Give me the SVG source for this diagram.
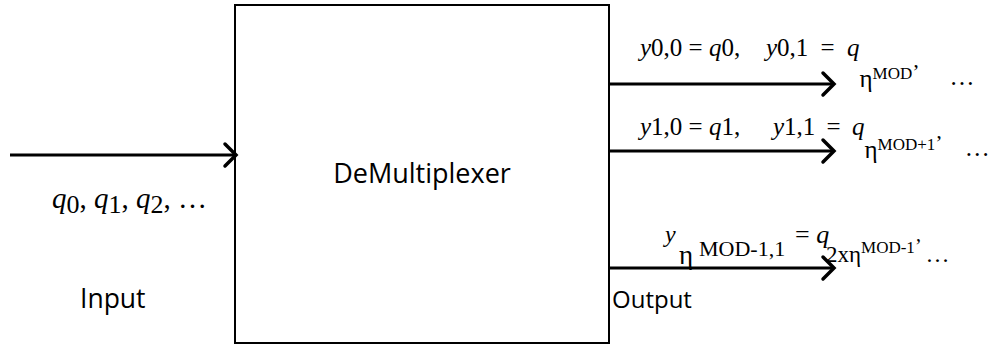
<svg xmlns="http://www.w3.org/2000/svg" width="992" height="345" viewBox="0 0 992 345">
<defs>
<marker id="chev" markerUnits="userSpaceOnUse" markerWidth="30" markerHeight="30" viewBox="-16 -15 20 30" refX="0" refY="0" orient="auto" overflow="visible">
<path d="M-11,-11 L0,0 L-11,11" fill="none" stroke="#000" stroke-width="3.5" stroke-linecap="round" stroke-linejoin="miter"/>
</marker>
</defs>
<style>
.box{fill:#fff;stroke:#000;stroke-width:2}
.sans{font-family:"Open Sans","Liberation Sans",sans-serif;fill:#000}
.m{font-family:"Liberation Serif","DejaVu Serif",serif;fill:#000}
.i{font-style:italic}
.conn{stroke:#000;stroke-width:3;fill:none;marker-end:url(#chev)}
</style>
<g id="demux">
<rect class="box" x="235" y="5" width="374" height="338"/>
<text class="sans" x="422" y="183" font-size="27" text-anchor="middle">DeMultiplexer</text>
</g>
<g id="connectors">
<line class="conn" x1="10" y1="155" x2="236" y2="155"/>
<line class="conn" x1="609" y1="84" x2="834" y2="84"/>
<line class="conn" x1="609" y1="151" x2="834" y2="151"/>
<line class="conn" x1="609" y1="268" x2="834" y2="268"/>
</g>
<g id="input-label">
<text class="m" x="52" y="208" font-size="29"><tspan class="i">q</tspan><tspan dy="5" font-size="26">0</tspan><tspan dy="-5">, </tspan><tspan class="i">q</tspan><tspan dy="5" font-size="26">1</tspan><tspan dy="-5">, </tspan><tspan class="i">q</tspan><tspan dy="5" font-size="26">2</tspan><tspan dy="-5">, …</tspan></text>
<text class="sans" x="80" y="308" font-size="26.5">Input</text>
</g>
<g id="output-labels">
<text class="m" x="640" y="56" font-size="25"><tspan class="i">y</tspan>0,0 = <tspan class="i">q</tspan>0,</text>
<text class="m" x="766" y="56" font-size="25" word-spacing="6"><tspan class="i">y</tspan>0,1 = <tspan class="i">q</tspan><tspan dy="31">η</tspan><tspan dy="-8" font-size="17">MOD</tspan><tspan font-size="22">’</tspan><tspan dx="30" dy="6">…</tspan></text>
<text class="m" x="640" y="135" font-size="25"><tspan class="i">y</tspan>1,0 = <tspan class="i">q</tspan>1,</text>
<text class="m" x="773" y="135" font-size="25" word-spacing="5"><tspan class="i">y</tspan>1,1 = <tspan class="i">q</tspan><tspan dy="23">η</tspan><tspan dy="-8" font-size="17">MOD+1</tspan><tspan font-size="22">’</tspan><tspan dx="22" dy="6">…</tspan></text>
<text class="m i" x="665" y="242" font-size="24">y</text>
<text class="m" x="679" y="264" font-size="27">η</text>
<text class="m" x="699" y="256" font-size="22">MOD-1,1</text>
<text class="m" x="795" y="243" font-size="26">= <tspan class="i">q</tspan></text>
<text class="m" x="826" y="262" font-size="23">2xη<tspan dy="-9" font-size="17">MOD-1</tspan><tspan font-size="20">’</tspan><tspan dx="4" dy="9" font-size="24">…</tspan></text>
<text class="sans" x="612" y="308" font-size="24">Output</text>
</g>
</svg>
